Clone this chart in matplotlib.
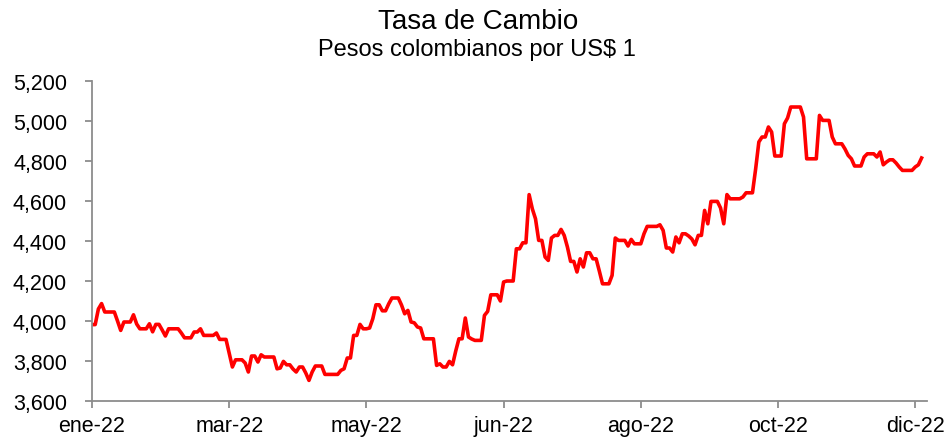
import matplotlib
matplotlib.use("Agg")
import matplotlib.pyplot as plt
from matplotlib.ticker import FuncFormatter, FixedLocator

plt.rcParams['font.family'] = ['Liberation Sans', 'DejaVu Sans']

title = "Tasa de Cambio"
subtitle = "Pesos colombianos por US$ 1"

# Daily exchange rate (COP per USD), 2022, one value per business day
trm = [
    3982, 3982, 4060, 4087, 4045, 4045, 4045, 4045, 4000, 3953,
    3995, 3995, 3995, 4031, 3985, 3961, 3961, 3961, 3986, 3946,
    3983, 3983, 3955, 3925, 3961, 3961, 3961, 3961, 3940, 3916,
    3916, 3916, 3945, 3945, 3961, 3928, 3928, 3928, 3928, 3940,
    3908, 3908, 3908, 3840, 3770, 3806, 3806, 3806, 3790, 3745,
    3825, 3825, 3795, 3831, 3820, 3820, 3820, 3820, 3761, 3765,
    3798, 3781, 3781, 3760, 3745, 3770, 3770, 3740, 3703, 3745,
    3775, 3775, 3775, 3733, 3733, 3733, 3733, 3733, 3753, 3761,
    3815, 3815, 3928, 3928, 3983, 3961, 3961, 3965, 4011, 4081,
    4081, 4051, 4051, 4086, 4115, 4115, 4115, 4080, 4036, 4053,
    3995, 3991, 3970, 3965, 3911, 3911, 3911, 3911, 3778, 3786,
    3770, 3770, 3798, 3781, 3850, 3911, 3911, 4015, 3920, 3910,
    3903, 3903, 3903, 4028, 4048, 4131, 4131, 4131, 4100, 4195,
    4200, 4200, 4200, 4361, 4361, 4391, 4391, 4632, 4561, 4511,
    4403, 4403, 4320, 4303, 4415, 4428, 4428, 4458, 4428, 4370,
    4298, 4298, 4245, 4311, 4270, 4341, 4341, 4311, 4311, 4250,
    4186, 4186, 4186, 4228, 4415, 4403, 4403, 4403, 4375, 4408,
    4386, 4386, 4386, 4436, 4473, 4473, 4473, 4473, 4481, 4453,
    4365, 4365, 4345, 4420, 4391, 4436, 4436, 4425, 4410, 4381,
    4428, 4428, 4553, 4486, 4598, 4598, 4598, 4565, 4486, 4632,
    4611, 4611, 4611, 4611, 4620, 4641, 4641, 4641, 4761, 4895,
    4920, 4920, 4970, 4945, 4825, 4825, 4825, 4986, 5015, 5070,
    5070, 5070, 5070, 5020, 4811, 4811, 4811, 4811, 5028, 5003,
    5003, 5003, 4920, 4886, 4886, 4886, 4860, 4828, 4811, 4775,
    4775, 4775, 4820, 4836, 4836, 4836, 4820, 4845, 4781, 4795,
    4806, 4806, 4790, 4770, 4753, 4753, 4753, 4753, 4770, 4781,
    4815,
]

x_labels = ["ene-22", "mar-22", "may-22", "jun-22", "ago-22", "oct-22", "dic-22"]
label_step = 43  # category-axis label interval (business days)

y_ticks = [3600, 3800, 4000, 4200, 4400, 4600, 4800, 5000, 5200]

fig = plt.figure(figsize=(9.47, 4.39), dpi=100)
ax = fig.add_axes([92/947, 1 - 402/439, (927 - 92)/947, (402 - 82)/439])

xs = list(range(len(trm)))
ax.plot(xs, trm, color="#FF0000", linewidth=2.6, solid_joinstyle="round")

ax.set_xlim(0, len(trm) + 0.7)
ax.set_ylim(3600, 5200)

ax.xaxis.set_major_locator(FixedLocator([i * label_step for i in range(len(x_labels))]))
ax.set_xticklabels(x_labels)
ax.set_yticks(y_ticks)
ax.yaxis.set_major_formatter(FuncFormatter(lambda v, p: f"{int(v):,}"))

for s in ["top", "right"]:
    ax.spines[s].set_visible(False)
for s in ["left", "bottom"]:
    ax.spines[s].set_color("#8c8c8c")
    ax.spines[s].set_linewidth(1.3)

ax.tick_params(axis="both", direction="out", length=5, width=1.3, color="#8c8c8c",
               labelsize=15.5, labelcolor="black")
ax.tick_params(axis="y", pad=13)
ax.tick_params(axis="x", pad=5)

fig.text(478/947, 1 - 22/439, title, ha="center", va="center",
         fontsize=20, color="black")
fig.text(477/947, 1 - 50/439, subtitle, ha="center", va="center",
         fontsize=17, color="black")

fig.savefig("out.png", dpi=100)
